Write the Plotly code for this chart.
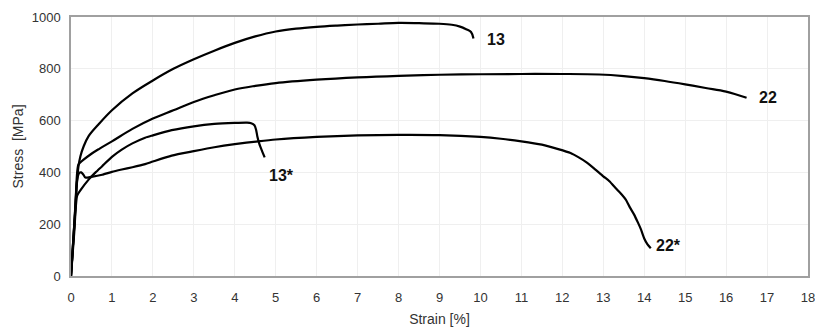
import plotly.graph_objects as go

# ---- data ----
strain_13 = [0, 0.1, 0.18, 0.23, 0.31, 0.43, 0.67, 1.0, 1.5, 2.0, 2.5, 3.0, 3.5, 4.0, 4.5,
             5.0, 5.5, 6.0, 6.5, 7.0, 7.5, 8.0, 8.5, 9.0, 9.3, 9.5, 9.65, 9.77, 9.83]
stress_13 = [0, 250, 420, 462, 501, 540, 585, 640, 705, 755, 800, 837, 870, 900, 925,
             944, 955, 962, 967, 971, 974, 977, 976, 974, 970, 963, 953, 942, 917]

strain_22 = [0, 0.1, 0.18, 0.22, 0.3, 0.5, 0.7, 1.0, 1.5, 2.0, 2.5, 3.0, 3.5, 4.0, 4.5, 5.0,
             6.0, 7.0, 8.0, 9.0, 10.0, 11.0, 12.0, 12.9, 13.5, 14.0, 14.5, 15.0, 15.5, 16.0, 16.5]
stress_22 = [0, 240, 430, 437, 448, 472, 492, 520, 568, 608, 640, 672, 698, 720, 734, 745,
             758, 767, 773, 777, 779, 780, 780, 778, 772, 764, 753, 740, 726, 712, 688]

strain_13s = [0, 0.08, 0.15, 0.25, 0.43, 0.6, 0.76, 1.0, 1.24, 1.5, 1.81, 2.0, 2.46, 3.0, 3.5,
              4.0, 4.3, 4.4, 4.48, 4.52, 4.55, 4.6, 4.66, 4.73]
stress_13s = [0, 170, 310, 335, 372, 400, 424, 460, 488, 512, 534, 543, 563, 578, 587,
              591, 592, 590, 582, 565, 540, 510, 485, 458]

strain_22s = [0, 0.08, 0.15, 0.2, 0.25, 0.3, 0.35, 0.5, 0.76, 1.0, 1.24, 1.5, 1.81, 2.0, 2.46,
              3.0, 3.5, 4.0, 4.57, 5.0, 6.0, 7.0, 8.0, 9.0, 10.0, 10.5, 11.0, 11.5, 11.9, 12.2,
              12.4, 12.6, 12.8, 13.0, 13.15, 13.3, 13.45, 13.55, 13.65, 13.75, 13.85, 13.92,
              14.0, 14.08, 14.16]
stress_22s = [0, 200, 370, 398, 400, 392, 380, 383, 391, 402, 411, 420, 432, 442, 465,
              482, 497, 509, 520, 527, 537, 543, 545, 544, 537, 530, 520, 507, 490, 475,
              458, 438, 412, 385, 366, 340, 315, 295, 265, 238, 205, 180, 145, 122, 107]

labels = ["13", "22", "13*", "22*"]
label_x = [10.37, 17.02, 5.15, 14.59]
label_y = [915, 690, 388, 116]

series = [(strain_13, stress_13), (strain_22, stress_22),
          (strain_13s, stress_13s), (strain_22s, stress_22s)]
smooth = [1.0, 1.0, 0.6, 0.6]

fig = go.Figure()
for (sx, sy), name, sm in zip(series, labels, smooth):
    fig.add_trace(go.Scatter(x=sx, y=sy, mode="lines", name=name,
                             line=dict(color="black", width=2.2, shape="spline", smoothing=sm),
                             showlegend=False, hoverinfo="skip"))

FONT = "Liberation Sans, Arial"
for t, x, y in zip(labels, label_x, label_y):
    fig.add_annotation(x=x, y=y, text="<b>%s</b>" % t, showarrow=False,
                       font=dict(family=FONT, size=16, color="#111"))

axis_common = dict(showgrid=True, gridcolor="#efefef", gridwidth=1,
                   showline=True, linecolor="#a0a0a0", linewidth=1.5, mirror=True,
                   zeroline=False, ticks="", automargin=False,
                   ticklabeloverflow="allow",
                   tickfont=dict(family=FONT, size=13, color="#333"))

fig.update_layout(
    width=815, height=330,
    margin=dict(l=71, r=7, t=17, b=54),
    paper_bgcolor="white", plot_bgcolor="white",
    xaxis=dict(range=[0, 18], dtick=1, tick0=0, ticklabelstandoff=9,
               title=dict(text="Strain [%]", standoff=10,
                          font=dict(family=FONT, size=14, color="#333")),
               **axis_common),
    yaxis=dict(range=[0, 1000], dtick=200, tick0=0, ticklabelstandoff=6,
               title=dict(text="Stress  [MPa]", standoff=5,
                          font=dict(family=FONT, size=14, color="#333")),
               **axis_common),
)

# remove the browser's default 8px body margin so the figure fills the window
fig.write_html("out.html", config={"displayModeBar": False},
               post_script="document.body.style.margin='0';document.body.style.overflow='hidden';")
